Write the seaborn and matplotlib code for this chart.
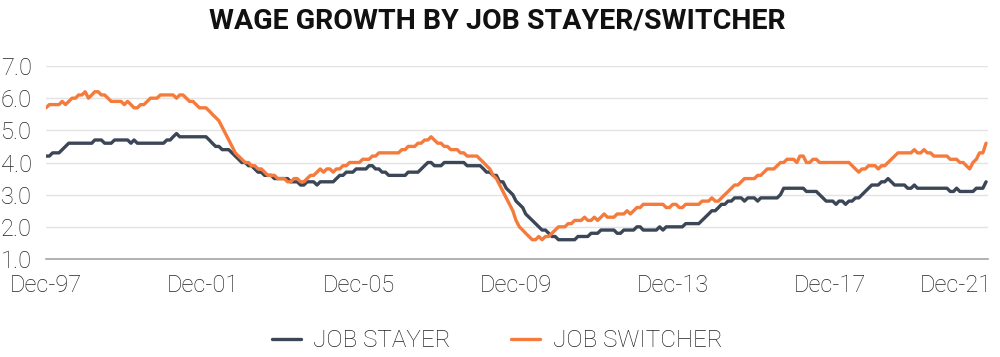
import matplotlib
matplotlib.use("Agg")
import matplotlib.pyplot as plt
import matplotlib.transforms as mtransforms
import seaborn as sns
import pandas as pd

# Monthly values, Dec-1997 .. Dec-2021 (first Dec-97 value, then one row per calendar year)
job_stayer = [4.2,
    4.2, 4.3, 4.3, 4.3, 4.4, 4.5, 4.6, 4.6, 4.6, 4.6, 4.6, 4.6,   # 1998
    4.6, 4.6, 4.7, 4.7, 4.7, 4.6, 4.6, 4.6, 4.7, 4.7, 4.7, 4.7,   # 1999
    4.7, 4.6, 4.7, 4.6, 4.6, 4.6, 4.6, 4.6, 4.6, 4.6, 4.6, 4.6,   # 2000
    4.7, 4.7, 4.8, 4.9, 4.8, 4.8, 4.8, 4.8, 4.8, 4.8, 4.8, 4.8,   # 2001
    4.8, 4.7, 4.6, 4.5, 4.5, 4.4, 4.4, 4.4, 4.3, 4.2, 4.1, 4.0,   # 2002
    4.0, 3.9, 3.9, 3.8, 3.7, 3.7, 3.6, 3.6, 3.6, 3.5, 3.5, 3.5,   # 2003
    3.5, 3.5, 3.4, 3.4, 3.4, 3.3, 3.3, 3.4, 3.4, 3.4, 3.3, 3.4,   # 2004
    3.4, 3.4, 3.4, 3.4, 3.5, 3.6, 3.6, 3.7, 3.7, 3.7, 3.8, 3.8,   # 2005
    3.8, 3.8, 3.9, 3.9, 3.8, 3.8, 3.7, 3.7, 3.6, 3.6, 3.6, 3.6,   # 2006
    3.6, 3.6, 3.7, 3.7, 3.7, 3.7, 3.8, 3.9, 4.0, 4.0, 3.9, 3.9,   # 2007
    3.9, 4.0, 4.0, 4.0, 4.0, 4.0, 4.0, 4.0, 3.9, 3.9, 3.9, 3.9,   # 2008
    3.9, 3.8, 3.7, 3.7, 3.6, 3.6, 3.4, 3.4, 3.2, 3.1, 3.0, 2.8,   # 2009
    2.7, 2.6, 2.4, 2.3, 2.2, 2.1, 2.0, 1.9, 1.9, 1.8, 1.7, 1.7,   # 2010
    1.6, 1.6, 1.6, 1.6, 1.6, 1.6, 1.7, 1.7, 1.7, 1.7, 1.8, 1.8,   # 2011
    1.8, 1.9, 1.9, 1.9, 1.9, 1.9, 1.8, 1.8, 1.9, 1.9, 1.9, 1.9,   # 2012
    2.0, 2.0, 1.9, 1.9, 1.9, 1.9, 1.9, 2.0, 1.9, 2.0, 2.0, 2.0,   # 2013
    2.0, 2.0, 2.0, 2.1, 2.1, 2.1, 2.1, 2.1, 2.2, 2.3, 2.4, 2.5,   # 2014
    2.5, 2.6, 2.7, 2.7, 2.8, 2.8, 2.9, 2.9, 2.9, 2.8, 2.9, 2.9,   # 2015
    2.9, 2.8, 2.9, 2.9, 2.9, 2.9, 2.9, 2.9, 3.0, 3.2, 3.2, 3.2,   # 2016
    3.2, 3.2, 3.2, 3.2, 3.1, 3.1, 3.1, 3.1, 3.0, 2.9, 2.8, 2.8,   # 2017
    2.8, 2.7, 2.8, 2.8, 2.7, 2.8, 2.8, 2.9, 2.9, 3.0, 3.1, 3.2,   # 2018
    3.3, 3.3, 3.3, 3.4, 3.4, 3.5, 3.4, 3.3, 3.3, 3.3, 3.3, 3.2,   # 2019
    3.2, 3.3, 3.2, 3.2, 3.2, 3.2, 3.2, 3.2, 3.2, 3.2, 3.2, 3.2,   # 2020
    3.1, 3.1, 3.2, 3.1, 3.1, 3.1, 3.1, 3.1, 3.2, 3.2, 3.2, 3.4]   # 2021

job_switcher = [5.7,
    5.8, 5.8, 5.8, 5.8, 5.9, 5.8, 5.9, 6.0, 6.0, 6.1, 6.1, 6.2,   # 1998
    6.0, 6.1, 6.2, 6.2, 6.1, 6.1, 6.0, 5.9, 5.9, 5.9, 5.9, 5.8,   # 1999
    5.9, 5.8, 5.7, 5.7, 5.8, 5.8, 5.9, 6.0, 6.0, 6.0, 6.1, 6.1,   # 2000
    6.1, 6.1, 6.1, 6.0, 6.1, 6.1, 6.0, 5.9, 5.9, 5.8, 5.7, 5.7,   # 2001
    5.7, 5.6, 5.5, 5.4, 5.3, 5.1, 4.9, 4.7, 4.5, 4.3, 4.2, 4.1,   # 2002
    4.0, 4.0, 3.9, 3.9, 3.8, 3.8, 3.7, 3.6, 3.6, 3.6, 3.5, 3.5,   # 2003
    3.5, 3.4, 3.4, 3.5, 3.5, 3.4, 3.4, 3.5, 3.6, 3.6, 3.7, 3.8,   # 2004
    3.7, 3.8, 3.8, 3.7, 3.8, 3.8, 3.9, 3.9, 4.0, 4.0, 4.0, 4.0,   # 2005
    4.1, 4.1, 4.1, 4.2, 4.2, 4.3, 4.3, 4.3, 4.3, 4.3, 4.3, 4.3,   # 2006
    4.4, 4.4, 4.5, 4.5, 4.5, 4.6, 4.6, 4.7, 4.7, 4.8, 4.7, 4.6,   # 2007
    4.6, 4.5, 4.5, 4.4, 4.4, 4.4, 4.3, 4.3, 4.2, 4.2, 4.2, 4.2,   # 2008
    4.1, 4.0, 3.9, 3.8, 3.6, 3.5, 3.3, 3.1, 2.9, 2.7, 2.5, 2.2,   # 2009
    2.0, 1.9, 1.8, 1.7, 1.6, 1.6, 1.7, 1.6, 1.7, 1.7, 1.8, 1.9,   # 2010
    2.0, 2.0, 2.0, 2.1, 2.1, 2.2, 2.2, 2.2, 2.3, 2.2, 2.2, 2.3,   # 2011
    2.2, 2.3, 2.4, 2.3, 2.3, 2.3, 2.4, 2.4, 2.4, 2.5, 2.4, 2.5,   # 2012
    2.6, 2.6, 2.7, 2.7, 2.7, 2.7, 2.7, 2.7, 2.7, 2.6, 2.6, 2.7,   # 2013
    2.7, 2.6, 2.6, 2.7, 2.7, 2.7, 2.7, 2.7, 2.8, 2.8, 2.8, 2.9,   # 2014
    2.8, 2.8, 2.9, 3.0, 3.1, 3.2, 3.3, 3.3, 3.4, 3.5, 3.5, 3.5,   # 2015
    3.5, 3.6, 3.6, 3.7, 3.8, 3.8, 3.8, 3.9, 4.0, 4.0, 4.1, 4.1,   # 2016
    4.1, 4.0, 4.2, 4.2, 4.0, 4.0, 4.1, 4.1, 4.0, 4.0, 4.0, 4.0,   # 2017
    4.0, 4.0, 4.0, 4.0, 4.0, 4.0, 3.9, 3.8, 3.7, 3.8, 3.8, 3.9,   # 2018
    3.9, 3.9, 3.8, 3.9, 3.9, 4.0, 4.1, 4.2, 4.3, 4.3, 4.3, 4.3,   # 2019
    4.3, 4.4, 4.3, 4.3, 4.4, 4.3, 4.3, 4.2, 4.2, 4.2, 4.2, 4.2,   # 2020
    4.1, 4.1, 4.1, 4.0, 4.0, 3.9, 3.8, 4.0, 4.1, 4.3, 4.3, 4.6]   # 2021

series_names = ["JOB STAYER", "JOB SWITCHER"]
tick_labels = ["Dec-97", "Dec-01", "Dec-05", "Dec-09", "Dec-13", "Dec-17", "Dec-21"]
y_ticks = [1.0, 2.0, 3.0, 4.0, 5.0, 6.0, 7.0]
title = "WAGE GROWTH BY JOB STAYER/SWITCHER"

dates = pd.date_range("1997-12-01", periods=len(job_stayer), freq="MS")
df = pd.concat([
    pd.DataFrame({"date": dates, "value": job_stayer, "series": series_names[0]}),
    pd.DataFrame({"date": dates, "value": job_switcher, "series": series_names[1]}),
])

sns.set_theme(style="white")
plt.rcParams["font.family"] = ["Roboto", "DejaVu Sans"]

NAVY = "#3b4657"
ORANGE = "#f57b3c"

fig = plt.figure(figsize=(10, 3.57), dpi=100)
ax = fig.add_axes([0.046, 0.2745, 0.942, 0.5406])

sns.lineplot(data=df, x="date", y="value", hue="series",
             palette={series_names[0]: NAVY, series_names[1]: ORANGE},
             linewidth=2.4, ax=ax, legend=False)

ax.set_ylim(1.0, 7.0)
ax.set_xlim(dates[0], dates[-1] + pd.Timedelta(days=18))
ax.set_yticks(y_ticks)
ax.set_yticklabels([f"{v:.1f}" for v in y_ticks])
tick_dates = [pd.Timestamp(f"{1997 + 4*i}-12-01") for i in range(len(tick_labels))]
ax.set_xticks(tick_dates)
ax.set_xticklabels(tick_labels)
ax.set_xlabel("")
ax.set_ylabel("")

ax.grid(axis="y", color="#e3e3e3", linewidth=1.0)
ax.grid(axis="x", visible=False)
ax.set_axisbelow(True)
for s in ["top", "right", "left"]:
    ax.spines[s].set_visible(False)
ax.spines["bottom"].set_color("#a6a6a6")
ax.spines["bottom"].set_linewidth(1.2)

ax.tick_params(axis="x", direction="out", length=7, width=1.2, color="#a6a6a6",
               pad=4, labelsize=17, labelcolor="#222222")
ax.tick_params(axis="y", length=0, pad=10, labelsize=17, labelcolor="#222222")
for lbl in ax.get_xticklabels() + ax.get_yticklabels():
    lbl.set_fontweight("light")

# last x label sits flush against the right edge
last = ax.get_xticklabels()[-1]
last.set_horizontalalignment("right")
last.set_transform(last.get_transform() +
                   mtransforms.ScaledTranslation(4 / 72, 0, fig.dpi_scale_trans))

fig.text(0.497, 0.942, title, ha="center", va="center",
         fontsize=20.5, fontweight="bold", color="#111111")

handles = [plt.Line2D([], [], color=NAVY, linewidth=2.4),
           plt.Line2D([], [], color=ORANGE, linewidth=2.4)]
leg = fig.legend(handles, series_names, loc="center", bbox_to_anchor=(0.497, 0.045),
                 ncol=2, frameon=False, fontsize=17.5, handlelength=1.2,
                 handletextpad=0.5, columnspacing=2.5)
for t in leg.get_texts():
    t.set_fontweight("light")
    t.set_color("#222222")

fig.savefig("out.png", dpi=100)
